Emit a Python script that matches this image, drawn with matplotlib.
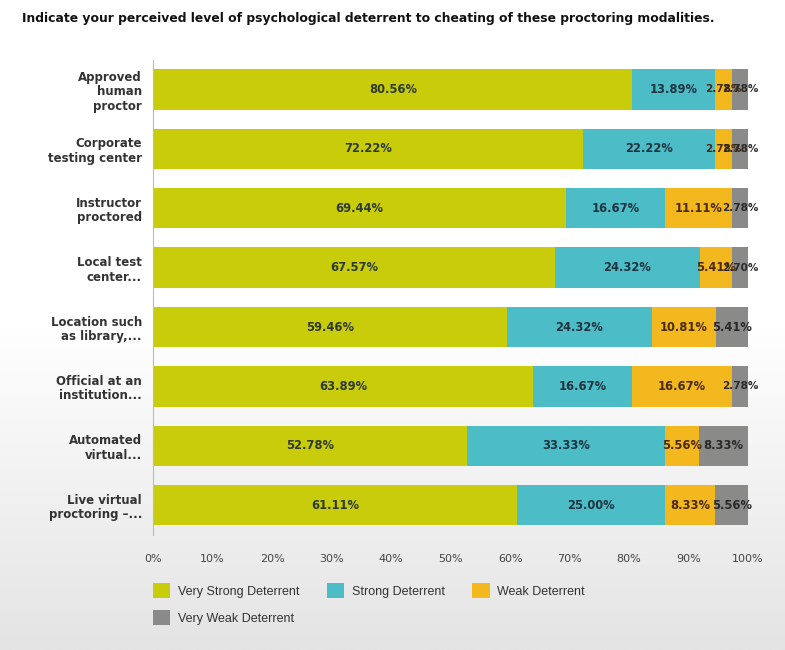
import matplotlib
matplotlib.use("Agg")
import matplotlib.pyplot as plt
import numpy as np
from matplotlib.colors import LinearSegmentedColormap

categories = ["Approved\nhuman\nproctor", "Corporate\ntesting center", "Instructor\nproctored",
              "Local test\ncenter...", "Location such\nas library,...", "Official at an\ninstitution...",
              "Automated\nvirtual...", "Live virtual\nproctoring \u2013..."]
series_names = ["Very Strong Deterrent", "Strong Deterrent", "Weak Deterrent", "Very Weak Deterrent"]
very_strong = [80.56, 72.22, 69.44, 67.57, 59.46, 63.89, 52.78, 61.11]
strong = [13.89, 22.22, 16.67, 24.32, 24.32, 16.67, 33.33, 25.00]
weak = [2.78, 2.78, 11.11, 5.41, 10.81, 16.67, 5.56, 8.33]
very_weak = [2.78, 2.78, 2.78, 2.70, 5.41, 2.78, 8.33, 5.56]
xticks = [0, 10, 20, 30, 40, 50, 60, 70, 80, 90, 100]
xtick_labels = ["0%", "10%", "20%", "30%", "40%", "50%", "60%", "70%", "80%", "90%", "100%"]
title = "Indicate your perceived level of psychological deterrent to cheating of these proctoring modalities."

colors = ["#c8cc0a", "#4cbcc6", "#f3b81e", "#8a8a88"]
label_colors = ["#2e3a30", "#1f3440", "#4a2a10", "#2a2a2a"]

fig = plt.figure(figsize=(7.85, 6.5), dpi=100)
fig.patch.set_facecolor("white")
bg = fig.add_axes([0, 0, 1, 1], zorder=-10)
grad = np.linspace(0, 1, 256).reshape(-1, 1)
cmap = LinearSegmentedColormap.from_list("bg", ["#ffffff", "#ffffff", "#e4e4e4"])
bg.imshow(grad, aspect="auto", cmap=cmap, extent=[0, 1, 0, 1], origin="upper")
bg.axis("off")

ax = fig.add_axes([0.195, 0.177, 0.758, 0.731])
ax.patch.set_alpha(0)
y = np.arange(len(categories))
left = np.zeros(len(categories))
all_series = [very_strong, strong, weak, very_weak]
handles = []
for vals, name, c, lc in zip(all_series, series_names, colors, label_colors):
    vals = np.array(vals)
    bars = ax.barh(y, vals, left=left, height=0.68, color=c, label=name, edgecolor="none")
    handles.append(bars)
    for yi, l, v in zip(y, left, vals):
        fs = 8.3 if v >= 4 else 7.5
        ax.text(l + v / 2, yi, f"{v:.2f}%", ha="center", va="center",
                fontsize=fs, fontweight="bold", color=lc)
    left += vals

ax.set_ylim(len(categories) - 0.5, -0.5)
ax.set_xlim(0, 100)
ax.set_yticks(y)
ax.set_yticklabels(categories, fontsize=8.5, fontweight="bold", color="#333333",
                   linespacing=1.15)
ax.set_xticks(xticks)
ax.set_xticklabels(xtick_labels, fontsize=8, color="#444444")
ax.tick_params(axis="both", length=0)
ax.tick_params(axis="x", pad=14)
ax.tick_params(axis="y", pad=8)
for s in ["top", "right", "bottom"]:
    ax.spines[s].set_visible(False)
ax.spines["left"].set_color("#bbbbbb")
ax.spines["left"].set_linewidth(0.8)

fig.text(0.028, 0.972, title, fontsize=8.9, fontweight="bold", color="#111111",
         ha="left", va="center")

order = [0, 3, 1, 2]
leg = fig.legend([handles[i] for i in order], [series_names[i] for i in order],
                 loc="upper left", bbox_to_anchor=(0.18, 0.12),
                 ncol=3, frameon=False, handlelength=1.4, handleheight=1.4,
                 columnspacing=2.2, labelcolor="#333333", handletextpad=0.6,
                 labelspacing=1.0, prop={"family": "Liberation Sans", "size": 9})

fig.savefig("out.png", dpi=100)
